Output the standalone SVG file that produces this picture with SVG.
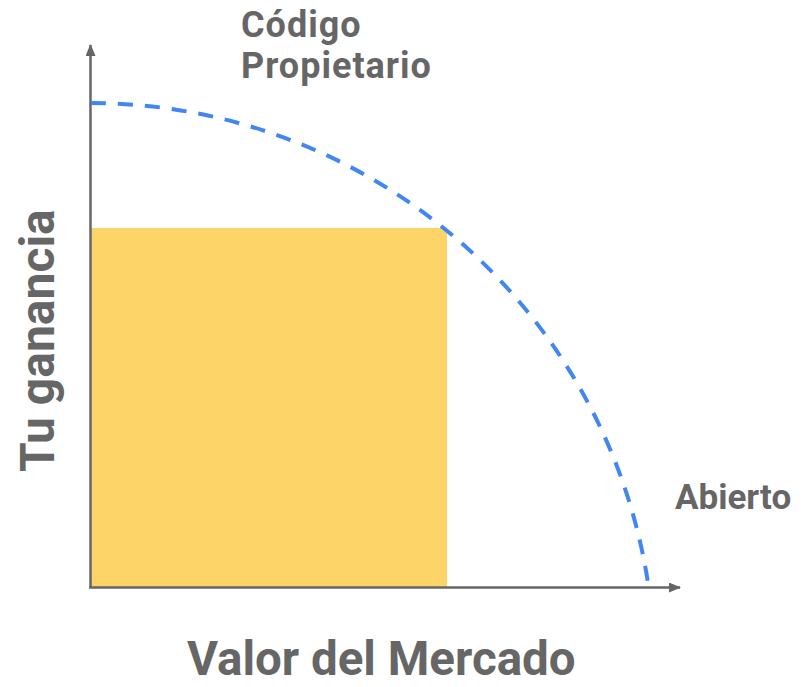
<svg xmlns="http://www.w3.org/2000/svg" width="807" height="687" viewBox="0 0 807 687">
  <style>
    .lbl { font-family: Roboto, "Liberation Sans", sans-serif; font-weight: bold; fill: #666666; }
    .top { font-size: 36px; letter-spacing: 1px; }
    .axis { stroke: #666666; stroke-width: 2.5; fill: none; }
    .curve { stroke: #4285F4; stroke-width: 4; fill: none; stroke-dasharray: 15 12; }
  </style>
  <defs>
    <marker id="arrow" viewBox="0 0 12 10" refX="11" refY="5" markerWidth="12" markerHeight="10" markerUnits="userSpaceOnUse" orient="auto">
      <path d="M0,0 L12,5 L0,10 Z" fill="#666666"/>
    </marker>
  </defs>
  <g id="area">
    <rect x="90" y="228" width="357" height="359" fill="#FCD467"/>
  </g>
  <g id="connectors">
    <line class="axis" x1="90.5" y1="588" x2="90.5" y2="45" marker-end="url(#arrow)"/>
    <line class="axis" x1="89" y1="587.5" x2="680" y2="587.5" marker-end="url(#arrow)"/>
    <path class="curve" d="M91,103 A565,567 0 0 1 648,583"/>
  </g>
  <g id="label-propietario">
    <text class="lbl top" x="241" y="36.5">Código</text>
    <text class="lbl top" x="241" y="78">Propietario</text>
  </g>
  <g id="label-abierto">
    <text class="lbl" x="675" y="509" font-size="35">Abierto</text>
  </g>
  <g id="label-x">
    <text class="lbl" x="187" y="675" font-size="47.5">Valor del Mercado</text>
  </g>
  <g id="label-y">
    <text class="lbl" transform="translate(54,472) rotate(-90)" x="0" y="0" font-size="48">Tu ganancia</text>
  </g>
</svg>
